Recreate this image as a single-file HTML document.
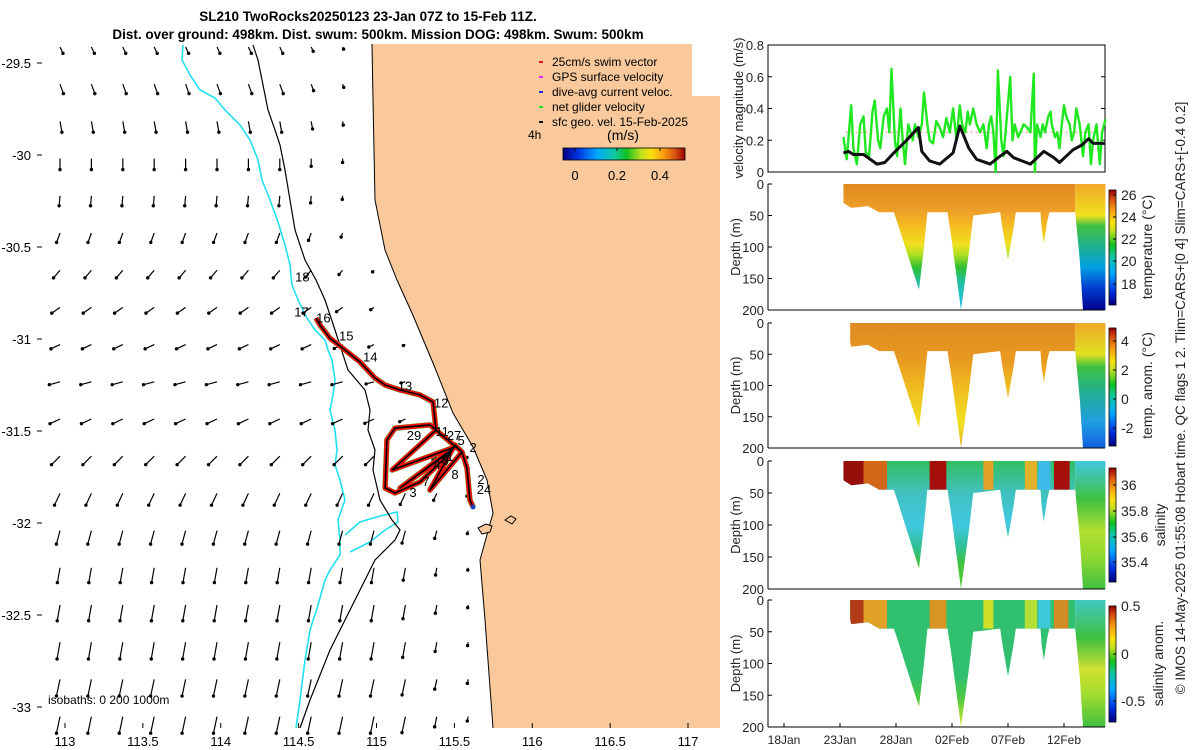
<!DOCTYPE html>
<html><head><meta charset="utf-8"><style>
html,body{margin:0;padding:0;background:#fff;}
svg{display:block;font-family:"Liberation Sans",sans-serif;}
</style></head><body>
<svg id="s" width="1200" height="750" viewBox="0 0 1200 750" xmlns="http://www.w3.org/2000/svg">
<defs>
<linearGradient id="cmap" x1="0" y1="1" x2="0" y2="0">
<stop offset="0" stop-color="#00007f"/><stop offset="0.12" stop-color="#0030e0"/><stop offset="0.28" stop-color="#00a8ff"/><stop offset="0.42" stop-color="#10c8a0"/><stop offset="0.52" stop-color="#10c020"/><stop offset="0.64" stop-color="#c0e020"/><stop offset="0.72" stop-color="#f8e010"/><stop offset="0.82" stop-color="#f8a010"/><stop offset="0.92" stop-color="#d85010"/><stop offset="1" stop-color="#980000"/>
</linearGradient>
<linearGradient id="cmapH" x1="0" y1="0" x2="1" y2="0">
<stop offset="0" stop-color="#00007f"/><stop offset="0.12" stop-color="#0030e0"/><stop offset="0.28" stop-color="#00a8ff"/><stop offset="0.42" stop-color="#10c8a0"/><stop offset="0.52" stop-color="#10c020"/><stop offset="0.64" stop-color="#c0e020"/><stop offset="0.72" stop-color="#f8e010"/><stop offset="0.82" stop-color="#f8a010"/><stop offset="0.92" stop-color="#d85010"/><stop offset="1" stop-color="#980000"/>
</linearGradient>
<linearGradient id="tA" x1="0" y1="0" x2="0" y2="1"><stop offset="0" stop-color="#e08820"/><stop offset="0.22" stop-color="#eea028"/><stop offset="0.35" stop-color="#f5c020"/><stop offset="0.48" stop-color="#f0e020"/><stop offset="0.56" stop-color="#b0e020"/><stop offset="0.66" stop-color="#30c030"/><stop offset="0.78" stop-color="#20c0a0"/><stop offset="1" stop-color="#20c0f0"/></linearGradient>
<linearGradient id="tB" x1="0" y1="0" x2="0" y2="1"><stop offset="0" stop-color="#f0a828"/><stop offset="0.25" stop-color="#f0e020"/><stop offset="0.33" stop-color="#40c040"/><stop offset="0.5" stop-color="#20b090"/><stop offset="0.66" stop-color="#00a0e0"/><stop offset="0.82" stop-color="#0040d0"/><stop offset="1" stop-color="#000090"/></linearGradient>
<linearGradient id="aA" x1="0" y1="0" x2="0" y2="1"><stop offset="0" stop-color="#e08a20"/><stop offset="0.3" stop-color="#e89a20"/><stop offset="0.55" stop-color="#f0c020"/><stop offset="0.8" stop-color="#f0e020"/><stop offset="1" stop-color="#e8b020"/></linearGradient>
<linearGradient id="aB" x1="0" y1="0" x2="0" y2="1"><stop offset="0" stop-color="#f0a828"/><stop offset="0.25" stop-color="#e0e020"/><stop offset="0.35" stop-color="#40c040"/><stop offset="0.55" stop-color="#20b090"/><stop offset="0.78" stop-color="#20a0e0"/><stop offset="1" stop-color="#1060e0"/></linearGradient>
<linearGradient id="sA" x1="0" y1="0" x2="0" y2="1"><stop offset="0" stop-color="#30c060"/><stop offset="0.25" stop-color="#40c0c0"/><stop offset="0.5" stop-color="#40c8e0"/><stop offset="0.68" stop-color="#30c090"/><stop offset="0.8" stop-color="#40c040"/><stop offset="1" stop-color="#50d030"/></linearGradient>
<linearGradient id="sB" x1="0" y1="0" x2="0" y2="1"><stop offset="0" stop-color="#40c8e0"/><stop offset="0.3" stop-color="#40c040"/><stop offset="0.55" stop-color="#b0e030"/><stop offset="0.75" stop-color="#90d830"/><stop offset="1" stop-color="#40c040"/></linearGradient>
<linearGradient id="nA" x1="0" y1="0" x2="0" y2="1"><stop offset="0" stop-color="#30c070"/><stop offset="0.6" stop-color="#30c070"/><stop offset="0.78" stop-color="#50c840"/><stop offset="1" stop-color="#e0e830"/></linearGradient>
<linearGradient id="nB" x1="0" y1="0" x2="0" y2="1"><stop offset="0" stop-color="#40c8c0"/><stop offset="0.3" stop-color="#40c040"/><stop offset="0.55" stop-color="#d0e030"/><stop offset="0.75" stop-color="#a0dc30"/><stop offset="1" stop-color="#40c040"/></linearGradient>
</defs>
<g id="map"></g>
<g id="right"></g>
</svg>
<script>
// ---------- MAP DATA ----------
const coastX = [372,373,374,375,385,397,412,433,453,473,487,493,480,485,493];
const coastY = [44,100,150,200,250,280,313,363,413,447,480,513,560,620,728];
const cyanX = [183,182,190,200,215,225,240,250,258,262,270,278,285,290,292,298,307,315,325,328,332,335,333,330,335,337,335,340,345,338,340,340,330,325,318,310,305,300,296];
const cyanY = [45,60,75,90,98,110,125,140,160,180,200,222,245,265,285,300,318,330,340,350,360,380,395,410,430,450,465,480,500,520,540,555,570,580,605,630,660,700,728];
const isoX = [253,258,262,268,275,280,285,290,295,305,316,325,335,348,365,370,368,375,373,380,392,400,395,375,360,345,330,310,300];
const isoY = [45,60,80,110,130,145,170,200,230,260,280,300,330,370,390,410,430,450,470,500,520,530,540,560,590,620,650,700,728];
const trackLon = [114.611,114.637,114.701,114.798,114.894,114.990,115.055,115.151,115.279,115.363,115.382,115.100,115.504,115.151,115.485,115.343,115.549,115.343,115.119,115.067,115.055,115.119,115.279,115.440,115.504,115.549,115.581,115.600,115.620];
const trackLat = [-30.886,-30.924,-30.995,-31.060,-31.125,-31.212,-31.250,-31.277,-31.304,-31.342,-31.495,-31.712,-31.587,-31.810,-31.603,-31.821,-31.614,-31.467,-31.484,-31.549,-31.810,-31.837,-31.777,-31.647,-31.576,-31.614,-31.701,-31.875,-31.913];
const dayLabels = ["18","17","16","15","14","13","12","29","11","27","5","2","6","1","4","8","7","3","2","24"];
const dayLabelLon = [114.524,114.518,114.659,114.806,114.960,115.183,115.415,115.241,115.421,115.498,115.543,115.620,115.440,115.472,115.389,115.504,115.318,115.234,115.671,115.690];
const dayLabelLat = [-30.660,-30.851,-30.883,-30.981,-31.095,-31.253,-31.345,-31.523,-31.500,-31.523,-31.549,-31.587,-31.658,-31.636,-31.679,-31.734,-31.772,-31.832,-31.761,-31.815];
const rowDir = [25,20,10,0,-5,-20,-40,-55,-65,-75,-65,-45,-25,-15,-10,-10,-10,-12,-12];
const rowLen = [7,10,11,11,10,10,10,10,10,11,11,12,13,14,15,16,17,17,17];
const lonTicks = [113,113.5,114,114.5,115,115.5,116,116.5,117];
const latTicks = [-29.5,-30,-30.5,-31,-31.5,-32,-32.5,-33];

// ---------- TIME SERIES DATA ----------
const velDays = [23.3,23.6,24.0,24.2,24.5,24.8,25.1,25.3,25.6,25.9,26.1,26.4,26.6,26.9,27.2,27.4,27.6,27.9,28.1,28.4,28.6,28.8,29.1,29.3,29.5,29.7,30.0,30.3,30.5,30.8,31.0,31.3,31.6,31.9,32.2,32.5,32.8,33.1,33.4,33.7,33.9,34.2,34.4,34.6,34.9,35.2,35.5,35.8,36.1,36.3,36.5,36.7,36.9,37.1,37.4,37.6,37.9,38.2,38.4,38.6,38.9,39.1,39.4,39.7,40.0,40.3,40.4,40.6,40.9,41.1,41.3,41.6,41.8,41.9,42.2,42.4,42.6,42.8,43.0,43.2,43.5,43.7,43.9,44.1,44.4,44.7,44.9,45.2,45.4,45.6,45.9,46.2,46.4,46.7];
const velGreen = [0.22,0.08,0.42,0.15,0.05,0.3,0.35,0.12,0.1,0.38,0.45,0.2,0.15,0.35,0.4,0.25,0.65,0.2,0.1,0.4,0.2,0.05,0.3,0.25,0.2,0.3,0.22,0.3,0.5,0.3,0.2,0.18,0.32,0.28,0.22,0.34,0.25,0.4,0.2,0.42,0.3,0.25,0.38,0.3,0.4,0.3,0.25,0.3,0.15,0.3,0.35,0.25,0.0,0.64,0.2,0.1,0.35,0.6,0.2,0.3,0.22,0.25,0.3,0.28,0.25,0.62,0.0,0.3,0.22,0.3,0.25,0.35,0.38,0.3,0.22,0.25,0.15,0.3,0.42,0.35,0.3,0.2,0.25,0.4,0.3,0.1,0.25,0.3,0.05,0.2,0.3,0.05,0.25,0.33];
const geoDays = [23.3,23.75,24.2,25.1,26.3,27.0,27.8,28.95,30.0,30.3,31.0,31.9,33.1,33.7,34.5,35.2,36.4,37.3,37.9,38.5,40.0,41.2,42.1,42.6,43.8,44.6,45.2,45.6,46.7];
const geoVel = [0.12,0.13,0.11,0.11,0.05,0.06,0.12,0.2,0.28,0.13,0.07,0.05,0.12,0.29,0.15,0.08,0.05,0.1,0.13,0.09,0.05,0.13,0.09,0.06,0.14,0.17,0.21,0.18,0.18];
const profDays = [23.3,24,25.5,26.5,27.8,28.1,29.0,30.05,30.5,30.8,32.6,32.9,33.8,34.5,34.9,37.3,37.5,38.0,38.5,38.7,40.9,41.0,41.2,41.5,41.7,44.0,44.4,44.7,46.7];
const profDepth = [30,38,35,45,45,60,110,168,100,45,45,80,200,110,50,45,70,120,70,45,45,70,95,60,45,45,120,200,200];
const dateTicks = ["18Jan","23Jan","28Jan","02Feb","07Feb","12Feb"];
const dateTickDays = [18,23,28,33,38,43];
const salStart = [23.3,25.1,31.0,35.8,39.5,40.7,42.1];
const salEnd = [25.1,27.2,32.5,36.7,40.6,41.8,43.5];
const salColor = ["#a00000","#e06010","#b00000","#f0a020","#f0b020","#40b8f0","#b00000"];
const sanStart = [23.9,25.1,31.0,35.8,39.5,40.7,42.1];
const sanEnd = [25.1,27.2,32.5,36.7,40.6,41.8,43.4];
const sanColor = ["#c03010","#f0a020","#e89020","#e0e020","#c0e030","#40c8e0","#e08820"];

const NS="http://www.w3.org/2000/svg";
function mk(parent, tag, attrs, text){const e=document.createElementNS(NS,tag);for(const k in attrs)e.setAttribute(k,attrs[k]);if(text!==undefined)e.textContent=text;parent.appendChild(e);return e;}
const lonX = lon => 65 + (lon-113)*155.75;
const latY = lat => 63 + (-29.5-lat)*184;
const map = document.getElementById('map');

let t1 = mk(map,'text',{x:368,y:21,'font-size':13.5,'font-weight':'bold','text-anchor':'middle'},'SL210 TwoRocks20250123 23-Jan 07Z to 15-Feb 11Z.');
 
let t2 = mk(map,'text',{x:378,y:39,'font-size':13.5,'font-weight':'bold','text-anchor':'middle'},'Dist. over ground: 498km. Dist. swum: 500km. Mission DOG: 498km. Swum: 500km');
 

let lp = coastX.map((x,i)=>x+','+coastY[i]).join(' ') + ' 720,728 720,44';
let land = mk(map,'polygon',{points:lp,fill:'#f9c99c',stroke:'none'});
 
let coast = mk(map,'polyline',{points:coastX.map((x,i)=>x+','+coastY[i]).join(' '),fill:'none',stroke:'#000','stroke-width':1});
 
let wb = mk(map,'rect',{x:692,y:44,width:30,height:52,fill:'#fff'});
 
let isl = mk(map,'path',{d:'M478,528 l8,-4 6,2 -2,6 -8,2z M505,520 l6,-4 5,3 -4,5z',fill:'#f9c99c',stroke:'#000','stroke-width':1});
 

let cy = mk(map,'polyline',{points:cyanX.map((x,i)=>x+','+cyanY[i]).join(' '),fill:'none',stroke:'#22e0f0','stroke-width':1.6});
 
let cy2 = mk(map,'polyline',{points:'345,535 360,522 380,516 397,512 398,522 385,530 370,542 350,552',fill:'none',stroke:'#22e0f0','stroke-width':1.6});
 
let iso = mk(map,'polyline',{points:isoX.map((x,i)=>x+','+isoY[i]).join(' '),fill:'none',stroke:'#000','stroke-width':1.2});
 

function coastAt(y){for(let i=1;i<coastY.length;i++){if(y<=coastY[i]){const f=(y-coastY[i-1])/(coastY[i]-coastY[i-1]);return coastX[i-1]+f*(coastX[i]-coastX[i-1]);}}return coastX[coastX.length-1];}
const arrows = mk(map,'g',{stroke:'#000',fill:'#000'});
 
for(let i=0;i<rowDir.length;i++){
  const y=47+37.2*i; const cx=coastAt(y);
  for(let j=0;j<14;j++){
    const x=60+31.4*j; if(x>cx-8) break;
    let L=rowLen[i]*Math.min(1,Math.max(0.15,(cx-x)/90));
    const a=rowDir[i]*Math.PI/180; const dx=Math.sin(a)*L, dy=Math.cos(a)*L;
    const ln=mk(arrows,'line',{x1:x,y1:y,x2:x+dx,y2:y+dy,'stroke-width':1.2});
     
    const hd=mk(arrows,'circle',{cx:x+dx,cy:y+dy,r:1.7,stroke:'none'});
     
  }
}

const tpts = trackLon.map((lo,i)=>lonX(lo).toFixed(1)+','+latY(trackLat[i]).toFixed(1)).join(' ');
let tg = mk(map,'polyline',{points:tpts,fill:'none',stroke:'#30e030','stroke-width':5.5,'stroke-linejoin':'round'});
 
let tr = mk(map,'polyline',{points:tpts,fill:'none',stroke:'#f01010','stroke-width':5,'stroke-linejoin':'round'});
 
let tb = mk(map,'polyline',{points:tpts,fill:'none',stroke:'#000','stroke-width':1.6,'stroke-linejoin':'round'});
 
let endp = mk(map,'circle',{cx:lonX(trackLon[trackLon.length-1]),cy:latY(trackLat[trackLat.length-1]),r:2.5,fill:'#2040c0'});
 
dayLabels.forEach((d,i)=>{const e=mk(map,'text',{x:lonX(dayLabelLon[i]),y:latY(dayLabelLat[i])+5,'font-size':13,'text-anchor':'middle'},d);
   });

const legItems=[['25cm/s swim vector','#f01010'],['GPS surface velocity','#f020f0'],['dive-avg current veloc.','#2030f0'],['net glider velocity','#20e020'],['sfc geo. vel. 15-Feb-2025','#000']];
legItems.forEach((it,i)=>{const y=62+15*i;
  const m=mk(map,'rect',{x:539,y:y-1,width:4,height:2,fill:it[1]});  
  const tx=mk(map,'text',{x:552,y:y+4,'font-size':12},it[0]);  });
let h4=mk(map,'text',{x:528,y:139,'font-size':12},'4h');  
let ms=mk(map,'text',{x:623,y:140,'font-size':14,'text-anchor':'middle'},'(m/s)');  
let mcb=mk(map,'rect',{x:563,y:148,width:122,height:12,fill:'url(#cmapH)',stroke:'#000','stroke-width':0.8});  
[[0,575],[0.2,617],['0.4',660]].forEach(v=>{const e=mk(map,'text',{x:v[1],y:180,'font-size':13,'text-anchor':'middle'},String(v[0]));
  mk(map,'line',{x1:v[1],y1:148,x2:v[1],y2:151,stroke:'#000'});});
let isol=mk(map,'text',{x:48,y:704,'font-size':12},'isobaths: 0   200  1000m');  

lonTicks.forEach(v=>{const x=lonX(v);mk(map,'line',{x1:x,y1:728,x2:x,y2:723,stroke:'#000'});
  const e=mk(map,'text',{x:x,y:746,'font-size':13,'text-anchor':'middle'},String(v));});
latTicks.forEach(v=>{const y=latY(v);mk(map,'line',{x1:37,y1:y,x2:42,y2:y,stroke:'#000'});
  const e=mk(map,'text',{x:31,y:y+5,'font-size':13,'text-anchor':'end'},String(v));});

// ---------- RIGHT PANELS ----------
const R=document.getElementById('right');
const X0=768, X1=1105;
const dayX = d => 784 + (d-18)*11.2;
const vy = v => 172 - v*158.75;
let vbox=mk(R,'rect',{x:X0,y:45,width:X1-X0,height:127,fill:'none',stroke:'#000','stroke-width':1});
 
[0,0.2,0.4,0.6,0.8].forEach(v=>{const y=vy(v);mk(R,'line',{x1:X0,y1:y,x2:X0+4,y2:y,stroke:'#000'});mk(R,'line',{x1:X1,y1:y,x2:X1-4,y2:y,stroke:'#000'});
  const e=mk(R,'text',{x:764,y:y+5,'font-size':13,'text-anchor':'end',fill:'#222'},String(v));});
let pk=mk(R,'line',{x1:dayX(23.5),y1:vy(0.25),x2:X1,y2:vy(0.25),stroke:'#f8b0a0','stroke-width':1.5,'stroke-dasharray':'2,3'});
 
let gl=mk(R,'polyline',{points:velDays.map((d,i)=>dayX(d).toFixed(1)+','+vy(velGreen[i]).toFixed(1)).join(' '),fill:'none',stroke:'#20e820','stroke-width':2.4,'stroke-linejoin':'round'});
 
let bl=mk(R,'polyline',{points:geoDays.map((d,i)=>dayX(d).toFixed(1)+','+vy(geoVel[i]).toFixed(1)).join(' '),fill:'none',stroke:'#111','stroke-width':3,'stroke-linejoin':'round'});
 
let vl=mk(R,'text',{x:0,y:0,'font-size':13,'text-anchor':'middle',fill:'#222',transform:'translate(743,108) rotate(-90)'},'velocity magnitude (m/s)');
 

const panels=[
 {y0:184,y1:310,start:23.3,A:'tA',B:'tB',cb:[190,305],ticks:[[26,195],[24,217],[22,239],[20,261],[18,284]],title:'temperature (°C)',tx:1152,name:'temperature',blocks:null},
 {y0:323,y1:448,start:23.9,A:'aA',B:'aB',cb:[328,446],ticks:[[4,341],[2,370],[0,399],[-2,428]],title:'temp. anom. (°C)',tx:1152,name:'temperature-anomaly',blocks:null},
 {y0:461,y1:589,start:23.3,A:'sA',B:'sB',cb:[468,582],ticks:[[36,485],[35.8,511],[35.6,537],[35.4,562]],title:'salinity',tx:1165,name:'salinity',blocks:[salStart,salEnd,salColor]},
 {y0:600,y1:727,start:23.9,A:'nA',B:'nB',cb:[606,722],ticks:[[0.5,606],[0,654],[-0.5,701]],title:'salinity anom.',tx:1163,name:'salinity-anomaly',blocks:[sanStart,sanEnd,sanColor]}
];
panels.forEach((p,k)=>{
  const dy = d => p.y0 + d/200*(p.y1-p.y0);
  const g=mk(R,'g',{});  
  const cid='clip'+k;
  const cp=mk(R,'clipPath',{id:cid});
  let pts=[dayX(p.start)+','+dy(0), dayX(46.7)+','+dy(0)];
  for(let i=profDays.length-1;i>=0;i--){const d=Math.max(profDays[i],p.start);pts.push(dayX(d).toFixed(1)+','+dy(profDepth[i]).toFixed(1));}
  mk(cp,'polygon',{points:pts.join(' ')});
  const inner=mk(g,'g',{'clip-path':'url(#'+cid+')'});
  mk(inner,'rect',{x:dayX(p.start),y:p.y0,width:dayX(44.0)-dayX(p.start),height:p.y1-p.y0,fill:'url(#'+p.A+')'});
  mk(inner,'rect',{x:dayX(44.0),y:p.y0,width:X1-dayX(44.0)+2,height:p.y1-p.y0,fill:'url(#'+p.B+')'});
  if(p.blocks){p.blocks[0].forEach((s,i)=>{const b=mk(inner,'rect',{x:dayX(s),y:p.y0,width:dayX(p.blocks[1][i])-dayX(s),height:dy(45)-p.y0,fill:p.blocks[2][i],opacity:0.92});
     });}
  mk(R,'line',{x1:X0,y1:p.y0,x2:X0,y2:p.y1,stroke:'#000'});
  mk(R,'line',{x1:X0,y1:p.y1,x2:X1,y2:p.y1,stroke:'#000'});
  [0,50,100,150,200].forEach(d=>{const y=dy(d);mk(R,'line',{x1:X0,y1:y,x2:X0+4,y2:y,stroke:'#000'});
    const e=mk(R,'text',{x:764,y:y+5,'font-size':13,'text-anchor':'end',fill:'#222'},String(d));});
  const yl=mk(R,'text',{x:0,y:0,'font-size':13,'text-anchor':'middle',fill:'#222',transform:'translate(740,'+((p.y0+p.y1)/2)+') rotate(-90)'},'Depth (m)');
   
  const cb=mk(R,'rect',{x:1109,y:p.cb[0],width:7,height:p.cb[1]-p.cb[0],fill:'url(#cmap)',stroke:'#000','stroke-width':0.8});
   
  p.ticks.forEach(t=>{mk(R,'line',{x1:1113,y1:t[1],x2:1116,y2:t[1],stroke:'#000'});
    const e=mk(R,'text',{x:1121,y:t[1]+5,'font-size':14,fill:'#222'},String(t[0]));});
  const ct=mk(R,'text',{x:0,y:0,'font-size':14,'text-anchor':'middle',fill:'#222',transform:'translate('+p.tx+','+((p.y0+p.y1)/2)+') rotate(-90)'},p.title);
   
});
dateTicks.forEach((lab,i)=>{const x=dayX(dateTickDays[i]);mk(R,'line',{x1:x,y1:727,x2:x,y2:723,stroke:'#000'});
  const e=mk(R,'text',{x:x,y:744,'font-size':12,'text-anchor':'middle',fill:'#222'},lab);});
let cr=mk(R,'text',{x:0,y:0,'font-size':13.5,'text-anchor':'middle',fill:'#222',transform:'translate(1185,398) rotate(-90)'},'© IMOS 14-May-2025 01:55:08 Hobart time. QC flags 1  2. Tlim=CARS+[0 4] Slim=CARS+[-0.4 0.2]');
 
</script>
</body></html>
